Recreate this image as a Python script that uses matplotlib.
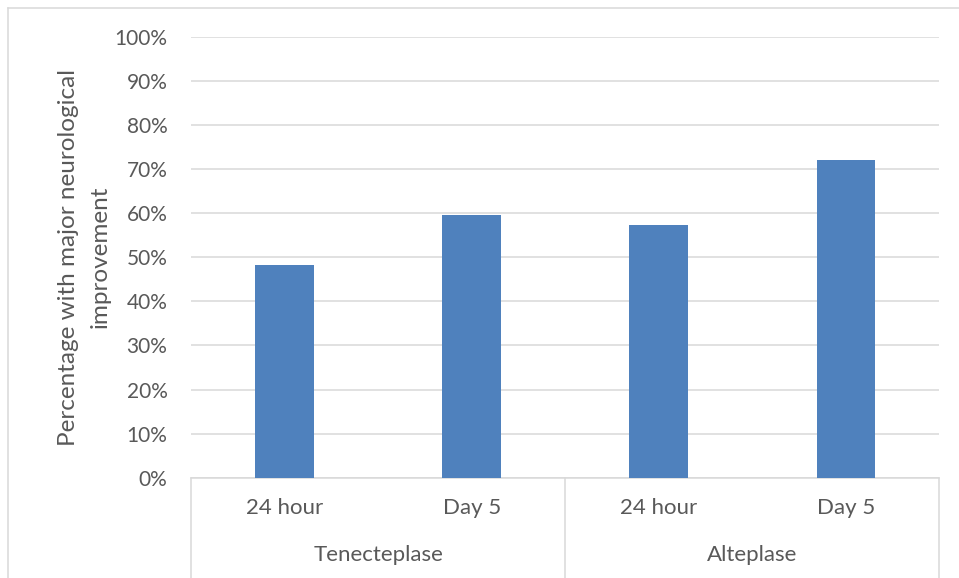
import matplotlib.pyplot as plt
from matplotlib.lines import Line2D
from matplotlib.ticker import PercentFormatter

# Share of patients with major neurological improvement
groups = ['Tenecteplase', 'Alteplase']
timepoints = ['24 hour', 'Day 5', '24 hour', 'Day 5']
values = [0.482, 0.596, 0.573, 0.720]

bar_color = '#4F81BD'
text_color = '#595959'
grid_color = '#D9D9D9'

plt.rcParams['font.family'] = ['Lato', 'DejaVu Sans']
plt.rcParams['font.size'] = 15

fig = plt.figure(figsize=(9.59, 5.78), dpi=100)
ax = fig.add_axes([0.1992, 0.1735, 0.7803, 0.763])

x = list(range(len(values)))
ax.bar(x, values, width=0.313, color=bar_color, zorder=3)

ax.set_xlim(-0.5, len(values) - 0.5)
ax.set_ylim(0, 1)
ax.set_yticks([i / 10 for i in range(11)])
ax.yaxis.set_major_formatter(PercentFormatter(1.0, decimals=0))
ax.grid(axis='y', color=grid_color, linewidth=1.1, zorder=0)
ax.tick_params(axis='y', length=0, pad=17, colors=text_color, labelsize=15)
ax.tick_params(axis='x', length=0, bottom=False, labelbottom=False)

for side in ['left', 'right', 'top']:
    ax.spines[side].set_visible(False)
ax.spines['bottom'].set_color(grid_color)
ax.spines['bottom'].set_linewidth(1.1)

ax.set_ylabel('Percentage with major neurological\nimprovement',
              color=text_color, fontsize=17.5, labelpad=3, linespacing=1.6)

# two-level category axis
trans = ax.get_xaxis_transform()
for i, lab in enumerate(timepoints):
    ax.text(i, -0.068, lab, transform=trans, ha='center', va='center',
            color=text_color, fontsize=16)
for g, name in enumerate(groups):
    ax.text(2 * g + 0.5, -0.175, name, transform=trans, ha='center',
            va='center', color=text_color, fontsize=16)
for xs in [-0.5, 1.5, 3.5]:
    ax.add_line(Line2D([xs, xs], [0, -0.25], transform=trans, color=grid_color,
                       linewidth=1.1, clip_on=False))

# outer chart frame
fig.add_artist(Line2D([8 / 959, 1], [1 - 8 / 578, 1 - 8 / 578],
                      transform=fig.transFigure, color=grid_color, linewidth=1.1))
fig.add_artist(Line2D([8 / 959, 8 / 959], [0, 1 - 8 / 578],
                      transform=fig.transFigure, color=grid_color, linewidth=1.1))

fig.savefig('out.png', dpi=100, facecolor='white')
